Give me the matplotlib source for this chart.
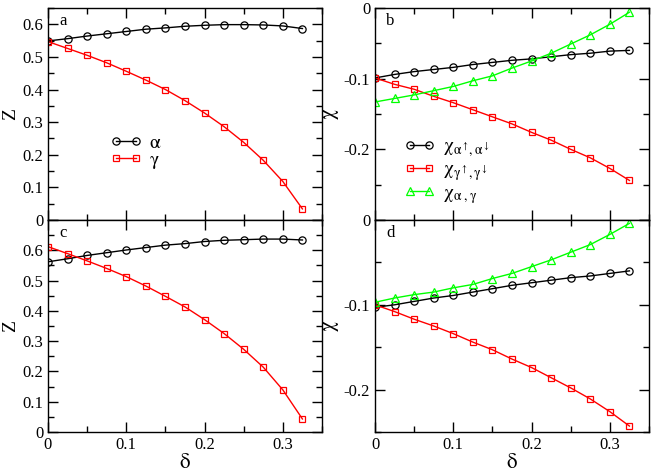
import matplotlib
matplotlib.use("Agg")
import matplotlib.pyplot as plt
from matplotlib.ticker import MultipleLocator, FuncFormatter
import numpy as np

plt.rcParams['font.family'] = ['Liberation Serif', 'DejaVu Serif']
plt.rcParams['mathtext.fontset'] = 'stix'
plt.rcParams['mathtext.default'] = 'rm'

delta = [0.0, 0.025, 0.05, 0.075, 0.1, 0.125, 0.15, 0.175, 0.2, 0.225, 0.25, 0.275, 0.3, 0.325]

# panel a: Z
a_alpha = [0.549, 0.556, 0.564, 0.571, 0.578, 0.585, 0.589, 0.594, 0.597, 0.599, 0.599, 0.598, 0.595, 0.587]
a_gamma = [0.547, 0.526, 0.505, 0.482, 0.456, 0.429, 0.400, 0.366, 0.328, 0.286, 0.238, 0.183, 0.118, 0.034]

# panel b: chi
b_aa = [-0.099, -0.094, -0.090, -0.087, -0.084, -0.080, -0.077, -0.074, -0.072, -0.069, -0.066, -0.064, -0.061, -0.060]
b_gg = [-0.099, -0.108, -0.115, -0.125, -0.134, -0.144, -0.154, -0.164, -0.176, -0.187, -0.200, -0.212, -0.227, -0.244]
b_ag = [-0.133, -0.128, -0.123, -0.117, -0.111, -0.103, -0.096, -0.085, -0.075, -0.064, -0.051, -0.038, -0.023, -0.006]

# panel c: Z
c_alpha = [0.562, 0.572, 0.583, 0.592, 0.601, 0.609, 0.617, 0.622, 0.629, 0.633, 0.635, 0.637, 0.637, 0.634]
c_gamma = [0.612, 0.589, 0.565, 0.540, 0.513, 0.482, 0.448, 0.413, 0.371, 0.325, 0.273, 0.214, 0.139, 0.043]

# panel d: chi
d_aa = [-0.103, -0.100, -0.096, -0.092, -0.089, -0.085, -0.081, -0.077, -0.074, -0.071, -0.068, -0.066, -0.063, -0.060]
d_gg = [-0.100, -0.108, -0.117, -0.125, -0.134, -0.144, -0.153, -0.164, -0.174, -0.186, -0.198, -0.211, -0.226, -0.243]
d_ag = [-0.097, -0.092, -0.088, -0.085, -0.080, -0.076, -0.069, -0.063, -0.055, -0.047, -0.038, -0.029, -0.017, -0.004]

W, H = 654, 473
fig = plt.figure(figsize=(W/100, H/100), dpi=100)

def px(l, t, r, b):
    return [l/W, 1 - b/H, (r-l)/W, (b-t)/H]

axa = fig.add_axes(px(48, 8, 322, 220))
axb = fig.add_axes(px(375, 8, 649, 220))
axc = fig.add_axes(px(48, 220, 322, 432))
axd = fig.add_axes(px(375, 220, 649, 432))

ms_c = 5.2
ms_s = 5.0
ms_t = 5.5
lw = 1.0

def circ(ax, y, lab=None):
    ax.plot(delta, y, '-', color='black', lw=lw, marker='o', ms=ms_c, mfc='none', mec='black', mew=0.9, label=lab)

def sq(ax, y, lab=None):
    ax.plot(delta, y, '-', color='#ff0000', lw=lw, marker='s', ms=ms_s, mfc='none', mec='#ff0000', mew=0.9, label=lab)

def tri(ax, y, lab=None):
    ax.plot(delta, y, '-', color='#00ff00', lw=lw, marker='^', ms=ms_t, mfc='none', mec='#00ff00', mew=0.9, label=lab)

circ(axa, a_alpha, r'$\alpha$')
sq(axa, a_gamma, r'$\gamma$')
circ(axc, c_alpha)
sq(axc, c_gamma)

circ(axb, b_aa, r'$\chi_{\alpha^{\uparrow},\alpha^{\downarrow}}$')
sq(axb, b_gg, r'$\chi_{\gamma^{\uparrow},\gamma^{\downarrow}}$')
tri(axb, b_ag, r'$\chi_{\alpha\ ,\gamma}$')
circ(axd, d_aa)
sq(axd, d_gg)
tri(axd, d_ag)

def make_fmt(hide):
    def f(v, pos):
        if any(abs(v - h) < 1e-9 for h in hide):
            return ''
        s = '%g' % round(v, 6)
        if s == '-0':
            s = '0'
        return s
    return FuncFormatter(f)

for ax in (axa, axb, axc, axd):
    ax.set_xlim(0, 0.35)
    ax.xaxis.set_major_locator(MultipleLocator(0.1))
    ax.xaxis.set_minor_locator(MultipleLocator(0.05))
    ax.yaxis.set_minor_locator(MultipleLocator(0.05))
    ax.yaxis.set_major_locator(MultipleLocator(0.1))
    ax.tick_params(which='both', direction='in', top=True, right=True, labelsize=12, width=1.0)
    ax.tick_params(which='major', length=7)
    ax.tick_params(which='minor', length=4)
    for s in ax.spines.values():
        s.set_linewidth(1.0)
    ax.xaxis.set_major_formatter(make_fmt([]))

axa.set_ylim(0, 0.65)
axc.set_ylim(0, 0.7)
axb.set_ylim(-0.3, 0)
axd.set_ylim(-0.25, 0)
axa.yaxis.set_major_formatter(make_fmt([]))
axc.yaxis.set_major_formatter(make_fmt([0.7]))
axb.yaxis.set_major_formatter(make_fmt([-0.3]))
axd.yaxis.set_major_formatter(make_fmt([]))
axa.tick_params(labelbottom=False)
axb.tick_params(labelbottom=False)

for ax in (axa, axc):
    ax.set_ylabel('Z', fontsize=14, labelpad=2)
for ax in (axb, axd):
    ax.set_ylabel(r'$\chi$', fontsize=15, labelpad=2)
for ax in (axc, axd):
    ax.set_xlabel(r'$\delta$', fontsize=15, labelpad=1)

for ax, t in ((axa, 'a'), (axb, 'b'), (axc, 'c'), (axd, 'd')):
    ax.text(0.04, 0.975, t, transform=ax.transAxes, fontsize=12, va='top', ha='left')

axa.legend(loc='upper left', bbox_to_anchor=(0.178, 0.47), frameon=False, numpoints=2,
           handlelength=1.6, handletextpad=0.4, labelspacing=0.0, fontsize=14, borderpad=0.2)
axb.legend(loc='upper left', bbox_to_anchor=(0.055, 0.45), frameon=False, numpoints=2,
           handlelength=1.6, handletextpad=0.4, labelspacing=0.1, fontsize=14, borderpad=0.2)

fig.savefig('out.png', dpi=100)
